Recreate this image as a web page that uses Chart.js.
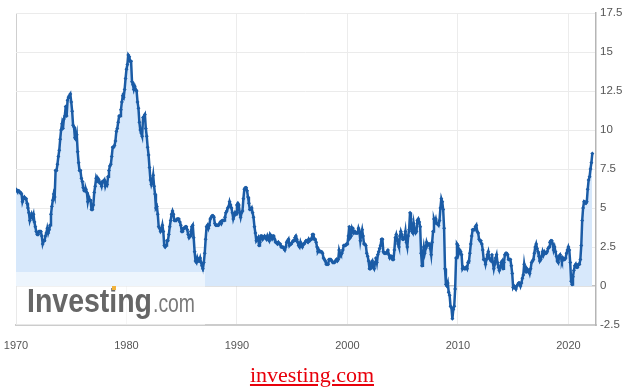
<!DOCTYPE html>
<html>
<head>
<meta charset="utf-8">
<title>US CPI YoY</title>
<script src="https://cdn.jsdelivr.net/npm/chart.js@4.4.1/dist/chart.umd.min.js"></script>
<style>
  body { margin: 0; background: #fff; }
  #wrap { position: relative; width: 624px; height: 388px; }
  #source {
    position: absolute; left: 0; width: 624px; top: 362px;
    text-align: center; font: 22px "Liberation Serif", "Times New Roman", serif;
    color: #e8000b; text-decoration: underline;
  }
</style>
</head>
<body>
<div id="wrap">
  <canvas id="chart" width="624" height="388"></canvas>
  <div id="source">investing.com</div>
</div>
<script>
// Monthly CPI, % change year over year, starting January 1970
const startYear = 1970;

const cpi1970s = [
  6.2, 6.1, 6.1, 6.1, 6.0, 6.0, 5.9, 5.4, 5.6, 5.7, 5.6, 5.6,
  5.3, 5.0, 4.7, 4.2, 4.4, 4.6, 4.4, 4.6, 4.1, 3.8, 3.5, 3.3,
  3.3, 3.5, 3.5, 3.5, 3.2, 2.7, 2.9, 2.9, 3.2, 3.4, 3.7, 3.4,
  3.6, 3.9, 4.6, 5.1, 5.5, 5.9, 5.7, 7.4, 7.4, 7.8, 8.3, 8.7,
  9.4, 10.0, 10.4, 10.1, 10.7, 10.9, 11.5, 10.9, 11.9, 12.1, 12.2, 12.3,
  11.8, 11.2, 10.3, 10.2, 9.5, 9.4, 9.7, 8.6, 7.9, 7.4, 7.4, 6.9,
  6.7, 6.3, 6.1, 6.1, 6.2, 6.0, 5.4, 5.7, 5.5, 5.5, 4.9, 4.9,
  5.2, 6.0, 6.4, 6.9, 6.7, 6.9, 6.8, 6.6, 6.6, 6.4, 6.7, 6.7,
  6.8, 6.4, 6.6, 6.5, 7.0, 7.4, 7.7, 7.8, 8.3, 8.9, 8.9, 9.0,
  9.3, 9.9, 10.1, 10.5, 10.9, 10.9, 11.3, 11.8, 12.2, 12.1, 12.6, 13.3
];

const cpi1980s = [
  13.9, 14.2, 14.8, 14.7, 14.4, 14.4, 13.1, 12.9, 12.6, 12.8, 12.6, 12.5,
  11.8, 11.4, 10.5, 10.0, 9.8, 9.6, 10.8, 10.8, 11.0, 10.1, 9.6, 8.9,
  8.4, 7.6, 6.8, 6.5, 6.7, 7.1, 6.4, 5.9, 5.0, 5.1, 4.6, 3.8,
  3.7, 3.5, 3.6, 3.9, 3.5, 2.6, 2.5, 2.6, 2.9, 2.9, 3.3, 3.8,
  4.2, 4.6, 4.8, 4.6, 4.2, 4.2, 4.2, 4.3, 4.3, 4.3, 4.1, 3.9,
  3.5, 3.5, 3.7, 3.7, 3.8, 3.8, 3.6, 3.3, 3.1, 3.2, 3.5, 3.8,
  3.9, 3.1, 2.2, 1.6, 1.5, 1.8, 1.6, 1.6, 1.8, 1.5, 1.3, 1.1,
  1.5, 2.1, 3.0, 3.8, 3.9, 3.7, 3.9, 4.3, 4.4, 4.5, 4.5, 4.4,
  4.0, 3.9, 3.9, 3.9, 3.9, 4.0, 4.1, 4.0, 4.2, 4.2, 4.2, 4.4,
  4.7, 4.8, 5.0, 5.1, 5.4, 5.2, 5.0, 4.7, 4.3, 4.5, 4.7, 4.6
];

const cpi1990s = [
  5.2, 5.3, 5.2, 4.7, 4.4, 4.7, 4.8, 5.6, 6.2, 6.3, 6.3, 6.1,
  5.7, 5.3, 4.9, 4.9, 5.0, 4.7, 4.4, 3.8, 3.4, 2.9, 3.0, 3.1,
  2.6, 2.8, 3.2, 3.2, 3.0, 3.1, 3.2, 3.1, 3.0, 3.2, 3.0, 2.9,
  3.3, 3.2, 3.1, 3.2, 3.2, 3.0, 2.8, 2.8, 2.7, 2.8, 2.7, 2.7,
  2.5, 2.5, 2.5, 2.4, 2.3, 2.5, 2.8, 2.9, 3.0, 2.6, 2.7, 2.7,
  2.8, 2.9, 2.9, 3.1, 3.2, 3.0, 2.8, 2.6, 2.5, 2.8, 2.6, 2.5,
  2.7, 2.7, 2.8, 2.9, 2.9, 2.8, 3.0, 2.9, 3.0, 3.0, 3.3, 3.3,
  3.0, 3.0, 2.8, 2.5, 2.2, 2.3, 2.2, 2.2, 2.2, 2.1, 1.8, 1.7,
  1.6, 1.4, 1.4, 1.4, 1.7, 1.7, 1.7, 1.6, 1.5, 1.5, 1.5, 1.6,
  1.7, 1.6, 1.7, 2.3, 2.1, 2.0, 2.1, 2.3, 2.6, 2.6, 2.6, 2.7
];

const cpi2000s = [
  2.7, 3.2, 3.8, 3.1, 3.2, 3.7, 3.7, 3.4, 3.5, 3.4, 3.4, 3.4,
  3.7, 3.5, 2.9, 3.3, 3.6, 3.2, 2.7, 2.7, 2.6, 2.1, 1.9, 1.6,
  1.1, 1.1, 1.5, 1.6, 1.2, 1.1, 1.5, 1.8, 1.5, 2.0, 2.2, 2.4,
  2.6, 3.0, 3.0, 2.2, 2.1, 2.1, 2.1, 2.2, 2.3, 2.0, 1.8, 1.9,
  1.9, 1.7, 1.7, 2.3, 3.1, 3.3, 3.0, 2.7, 2.5, 3.2, 3.5, 3.3,
  3.0, 3.0, 3.1, 3.5, 2.8, 2.5, 3.2, 3.6, 4.7, 4.3, 3.5, 3.4,
  4.0, 3.6, 3.4, 3.5, 4.2, 4.3, 4.1, 3.8, 2.1, 1.3, 2.0, 2.5,
  2.1, 2.4, 2.8, 2.6, 2.7, 2.7, 2.4, 2.0, 2.8, 3.5, 4.3, 4.1,
  4.3, 4.0, 4.0, 3.9, 4.2, 5.0, 5.6, 5.4, 4.9, 3.7, 1.1, 0.1,
  0.0, 0.2, -0.4, -0.6, -1.3, -1.4, -2.1, -1.5, -1.3, -0.2, 1.8, 2.7
];

const cpi2010s = [
  2.6, 2.1, 2.3, 2.2, 2.0, 1.1, 1.2, 1.1, 1.1, 1.2, 1.1, 1.5,
  1.6, 2.1, 2.7, 3.2, 3.6, 3.6, 3.6, 3.8, 3.9, 3.5, 3.4, 3.0,
  2.9, 2.9, 2.7, 2.3, 1.7, 1.7, 1.4, 1.7, 2.0, 2.2, 1.8, 1.7,
  1.6, 2.0, 1.5, 1.1, 1.4, 1.8, 2.0, 1.5, 1.2, 1.0, 1.2, 1.5,
  1.6, 1.1, 1.5, 2.0, 2.1, 2.1, 2.0, 1.7, 1.7, 1.7, 1.3, 0.8,
  -0.1, 0.0, -0.1, -0.2, 0.0, 0.1, 0.2, 0.2, 0.0, 0.2, 0.5, 0.7,
  1.4, 1.0, 0.9, 1.1, 1.0, 1.0, 0.8, 1.1, 1.5, 1.6, 1.7, 2.1,
  2.5, 2.7, 2.4, 2.2, 1.9, 1.6, 1.7, 1.9, 2.2, 2.0, 2.2, 2.1,
  2.1, 2.2, 2.4, 2.5, 2.8, 2.9, 2.9, 2.7, 2.3, 2.5, 2.2, 1.9,
  1.6, 1.5, 1.9, 2.0, 1.8, 1.6, 1.8, 1.7, 1.7, 1.8, 2.1, 2.3
];

const cpi2020s = [
  2.5, 2.3, 1.5, 0.3, 0.1, 0.6, 1.0, 1.3, 1.4, 1.2, 1.2, 1.4,
  1.4, 1.7, 2.6, 4.2, 5.0, 5.4, 5.4, 5.3, 5.4, 6.2, 6.8, 7.0,
  7.5, 7.9, 8.5
];

const decadeTicks = [1970, 1980, 1990, 2000, 2010, 2020];
const valueTicks = [-2.5, 0, 2.5, 5, 7.5, 10, 12.5, 15, 17.5];

const monthly = [].concat(cpi1970s, cpi1980s, cpi1990s, cpi2000s, cpi2010s, cpi2020s);
const points = monthly.map((v, i) => ({ x: startYear + i / 12, y: v }));

const lineBlue = '#1b5ca6';

// watermark in the lower left corner of the plot
const watermark = {
  id: 'watermark',
  afterDatasetsDraw(chart) {
    const { ctx, chartArea } = chart;
    const x0 = chartArea.left;
    const y0 = chart.scales.y.getPixelForValue(0) - 14;
    ctx.save();
    ctx.fillStyle = 'rgba(255,255,255,0.55)';
    ctx.fillRect(x0, y0, 189, chartArea.bottom - y0);

    ctx.textBaseline = 'alphabetic';
    ctx.font = 'bold 33px "Liberation Sans", Arial, sans-serif';
    let w = ctx.measureText('Investing').width;
    ctx.save();
    ctx.translate(x0 + 11, 312);
    ctx.scale(125 / w, 1);
    ctx.fillStyle = '#666';
    ctx.fillText('Investing', 0, 0);
    ctx.restore();

    ctx.font = '26px "Liberation Sans", Arial, sans-serif';
    w = ctx.measureText('.com').width;
    ctx.save();
    ctx.translate(x0 + 137, 312);
    ctx.scale(42 / w, 1);
    ctx.fillStyle = '#7a7a7a';
    ctx.fillText('.com', 0, 0);
    ctx.restore();

    ctx.fillStyle = '#f2b33d';
    ctx.fillRect(x0 + 96, 286, 4, 4);
    ctx.restore();
  }
};

new Chart(document.getElementById('chart'), {
  type: 'line',
  data: {
    datasets: [{
      data: points,
      borderColor: lineBlue,
      borderWidth: 2.5,
      pointRadius: 2,
      pointStyle: 'rectRot',
      pointBackgroundColor: lineBlue,
      pointBorderWidth: 0,
      tension: 0,
      fill: { target: 'origin', above: '#d7e8fb', below: 'rgba(0,0,0,0)' }
    }]
  },
  options: {
    responsive: false,
    animation: false,
    layout: { padding: { left: 16, top: 13, right: 0, bottom: 0 } },
    plugins: { legend: { display: false }, tooltip: { enabled: false } },
    scales: {
      x: {
        type: 'linear',
        min: 1970,
        max: 2022.5,
        afterBuildTicks: s => { s.ticks = decadeTicks.map(v => ({ value: v })); },
        afterFit: s => { s.height = 63; s.paddingLeft = 0; s.paddingRight = 0; },
        ticks: {
          padding: 14,
          color: '#555',
          font: { family: '"Liberation Sans", Arial, sans-serif', size: 11 },
          callback: v => String(v),
          maxRotation: 0
        },
        grid: {
          drawTicks: false,
          color: c => (c.tick && c.tick.value === 1970 ? '#cfcfcf' : '#ececec')
        },
        border: { color: '#cccccc', width: 2 }
      },
      y: {
        position: 'right',
        min: -2.5,
        max: 17.5,
        afterBuildTicks: s => { s.ticks = valueTicks.map(v => ({ value: v })); },
        afterFit: s => { s.width = 28; },
        ticks: {
          padding: 4,
          color: '#555',
          font: { family: '"Liberation Sans", Arial, sans-serif', size: 11.5 },
          callback: v => String(v)
        },
        grid: {
          drawTicks: false,
          color: c => (c.tick && c.tick.value === 0 ? '#c4c4c4' : '#ebebeb'),
          lineWidth: c => (c.tick && c.tick.value === 0 ? 1.5 : 1)
        },
        border: { color: '#b5b5b5', width: 1.5 }
      }
    }
  },
  plugins: [watermark]
});
</script>
</body>
</html>
